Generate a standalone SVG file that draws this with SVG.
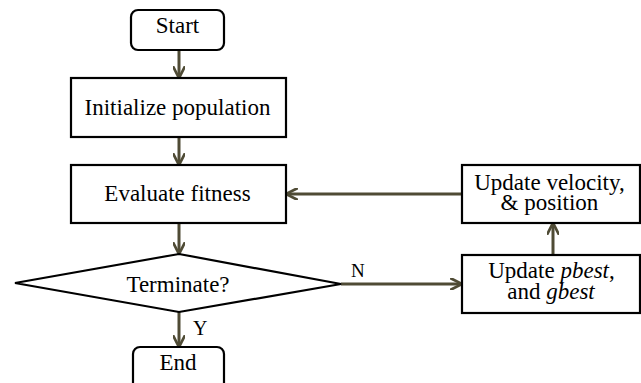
<svg xmlns="http://www.w3.org/2000/svg" width="641" height="383" viewBox="0 0 641 383">
<style>
.box{fill:#fff;stroke:#000;stroke-width:2.2}
.c{stroke:#4f4b35;stroke-width:3;fill:none}
</style>
<defs>
<marker id="ah" viewBox="0 0 10 10" refX="9" refY="5" markerWidth="4" markerHeight="4" orient="auto" markerUnits="strokeWidth">
<path d="M0,0 L10,5 L0,10" fill="none" stroke="#4f4b35" stroke-width="2.2"/>
</marker>
</defs>
<rect width="641" height="383" fill="#fff"/>
<g id="connectors">
<line class="c" x1="179" y1="50" x2="179" y2="77" marker-end="url(#ah)"/>
<line class="c" x1="179" y1="137" x2="179" y2="164" marker-end="url(#ah)"/>
<line class="c" x1="179" y1="223" x2="179" y2="253" marker-end="url(#ah)"/>
<line class="c" x1="179" y1="312" x2="179" y2="346" marker-end="url(#ah)"/>
<line class="c" x1="341" y1="284" x2="461" y2="284" marker-end="url(#ah)"/>
<line class="c" x1="553" y1="255" x2="553" y2="224" marker-end="url(#ah)"/>
<line class="c" x1="462" y1="194" x2="287" y2="194" marker-end="url(#ah)"/>
<text font-family="Liberation Serif, DejaVu Serif, serif" font-size="20" x="193" y="335">Y</text>
<text font-family="Liberation Serif, DejaVu Serif, serif" font-size="19" x="351" y="277">N</text>
</g>
<g id="start" font-family="Liberation Serif, DejaVu Serif, serif" font-size="23" text-anchor="middle">
<rect class="box" x="131" y="10" width="93" height="40" rx="7"/>
<text x="177.5" y="33">Start</text>
</g>
<g id="init" font-family="Liberation Serif, DejaVu Serif, serif" font-size="23" text-anchor="middle">
<rect class="box" x="71" y="78" width="215" height="59"/>
<text x="177.5" y="115">Initialize population</text>
</g>
<g id="eval" font-family="Liberation Serif, DejaVu Serif, serif" font-size="23" text-anchor="middle">
<rect class="box" x="71" y="165" width="215" height="58"/>
<text x="177.5" y="200.5">Evaluate fitness</text>
</g>
<g id="terminate" font-family="Liberation Serif, DejaVu Serif, serif" font-size="23" text-anchor="middle">
<polygon class="box" points="179,254 341,284 179,312 15,283"/>
<text x="178" y="292">Terminate?</text>
</g>
<g id="end" font-family="Liberation Serif, DejaVu Serif, serif" font-size="23" text-anchor="middle">
<rect class="box" x="133" y="347" width="91" height="44" rx="7"/>
<text x="178" y="370">End</text>
</g>
<g id="velocity" font-family="Liberation Serif, DejaVu Serif, serif" font-size="23" text-anchor="middle">
<rect class="box" x="462" y="165" width="178" height="58"/>
<text x="549.5" y="190">Update velocity,</text>
<text x="549.5" y="210">&amp; position</text>
</g>
<g id="pbest" font-family="Liberation Serif, DejaVu Serif, serif" font-size="23" text-anchor="middle">
<rect class="box" x="462" y="255" width="178" height="58"/>
<text x="551.5" y="278">Update <tspan font-style="italic">pbest</tspan>,</text>
<text x="551" y="299">and <tspan font-style="italic">gbest</tspan></text>
</g>
</svg>
